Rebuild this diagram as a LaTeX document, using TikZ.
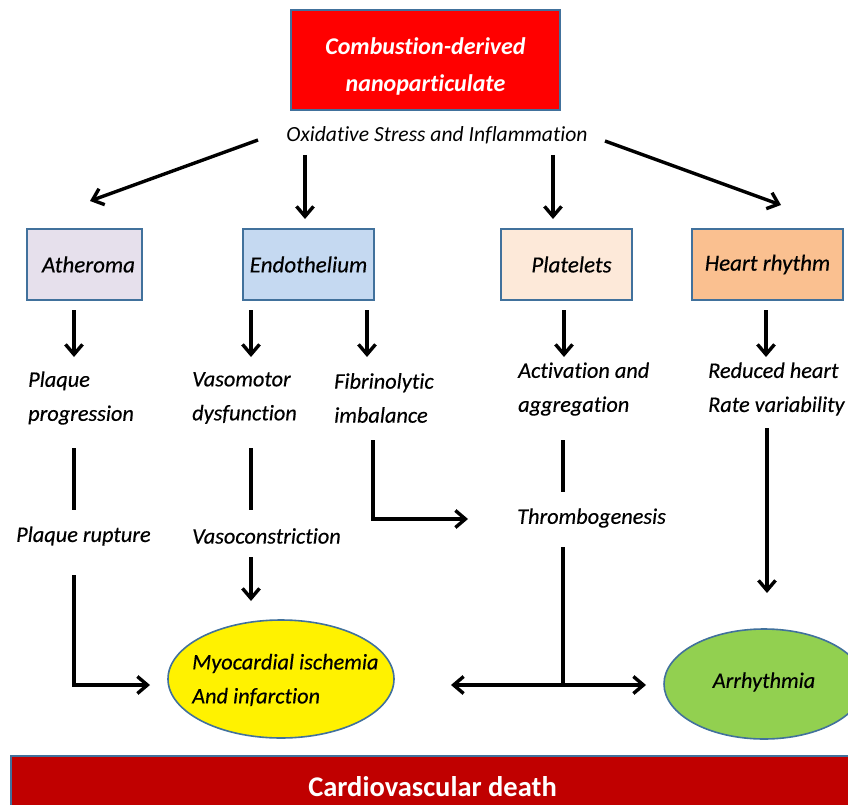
\documentclass[tikz,border=0pt]{standalone}
\usepackage{fontspec}
\setmainfont{Carlito}[Ligatures={NoCommon}]
\newfontfamily\heavyfont{Carlito}[Ligatures={NoCommon}, FakeBold=0.35]
\usetikzlibrary{arrows.meta,shapes.geometric}
\definecolor{bordc}{HTML}{41719C}
\definecolor{athc}{HTML}{E6E0EC}
\definecolor{endc}{HTML}{C5D9F1}
\definecolor{platc}{HTML}{FDE9D9}
\definecolor{heartc}{HTML}{FAC090}
\definecolor{topred}{HTML}{FF0000}
\definecolor{barred}{HTML}{C00000}
\definecolor{greenc}{HTML}{92D050}
\begin{document}
\begin{tikzpicture}[x=1pt,y=-1pt,
  txt/.style={font=\heavyfont\fontsize{22.3}{34}\selectfont\itshape, inner sep=0pt, align=left, anchor=west},
  cat/.style={draw=bordc, line width=1.6pt, minimum height=71pt, font=\heavyfont\fontsize{23}{28}\selectfont\itshape, inner sep=0pt},
  arr/.style={line width=3.4pt, -{Straight Barb[length=10pt,width=17pt,line width=3.4pt]}},
  ln/.style={line width=3.4pt}]
\clip (0,0) rectangle (848,805);
\fill[white] (0,0) rectangle (848,805);

% top box
\node[draw=bordc, fill=topred, line width=1.6pt, minimum width=269pt, minimum height=100pt, inner sep=0pt] (src) at (425.5,60) {};
\node[font=\fontsize{24}{37}\selectfont\bfseries\itshape, text=white, align=center, inner sep=0pt] (srct) at (425.5,66)
  {Combustion-derived\\nanoparticulate};
\node[font=\fontsize{21.6}{25}\selectfont\itshape, inner sep=0pt] (ox) at (437,135) {Oxidative Stress and Inflammation};

% category boxes
\node[cat, fill=athc, minimum width=115pt] (ath) at (84.5,264.5) {\hspace{8pt}Atheroma};
\node[cat, fill=endc, minimum width=131pt] (endo) at (308.5,264.5) {Endothelium};
\node[cat, fill=platc, minimum width=131pt] (plat) at (566.5,264.5) {\hspace{10pt}Platelets};
\node[cat, fill=heartc, minimum width=151pt] (heart) at (767.5,264.5) {Heart rhythm};

% arrows from oxidative stress
\coordinate (o1) at (258,140); \coordinate (o1e) at (90,201);
\coordinate (o2) at (305,155); \coordinate (o2e) at (305,219);
\coordinate (o3) at (553,155); \coordinate (o3e) at (553,219);
\coordinate (o4) at (605,141); \coordinate (o4e) at (781,205);
\draw[arr] (o1) -- (o1e);
\draw[arr] (o2) -- (o2e);
\draw[arr] (o3) -- (o3e);
\draw[arr] (o4) -- (o4e);

% second level texts
\node[txt] (pp) at (28,398) {Plaque\\progression};
\node[txt] (vd) at (192,398) {Vasomotor\\dysfunction};
\node[txt] (fi) at (334,398) {Fibrinolytic\\imbalance};
\node[txt] (aa) at (518,389) {Activation and\\aggregation};
\node[txt] (rh) at (708,389) {Reduced heart\\Rate variability};

% arrows from boxes
\coordinate (b1) at (74,310); \coordinate (b1e) at (74,357);
\coordinate (b2) at (251,310); \coordinate (b2e) at (251,357);
\coordinate (b3) at (367,310); \coordinate (b3e) at (367,357);
\coordinate (b4) at (564,310); \coordinate (b4e) at (564,357);
\coordinate (b5) at (766,310); \coordinate (b5e) at (766,357);
\draw[arr] (b1) -- (b1e);
\draw[arr] (b2) -- (b2e);
\draw[arr] (b3) -- (b3e);
\draw[arr] (b4) -- (b4e);
\draw[arr] (b5) -- (b5e);

% third level texts
\node[txt] (pr) at (16,536) {Plaque rupture};
\node[txt] (vc) at (192,536) {Vasoconstriction};
\node[txt] (tg) at (517,518) {Thrombogenesis};

% ellipses
\node[ellipse, draw=bordc, fill=yellow, line width=1.6pt, minimum width=226pt, minimum height=118pt] (myo) at (281,679) {};
\node[txt] (myot) at (192,680) {Myocardial ischemia\\And infarction};
\node[ellipse, draw=bordc, fill=greenc, line width=1.6pt, minimum width=200pt, minimum height=110pt] (arr) at (764,684) {};
\node[font=\heavyfont\fontsize{22.3}{28}\selectfont\itshape, inner sep=0pt] (arrt) at (764,682) {Arrhythmia};

% plaque path
\coordinate (p1) at (74,448); \coordinate (p1e) at (74,510);
\draw[ln] (p1) -- (p1e);
\coordinate (p2) at (74,575); \coordinate (p2c) at (74,685); \coordinate (p2e) at (150,685);
\draw[arr] (p2) -- (p2c) -- (p2e);

% vasomotor path
\coordinate (v1) at (251,448); \coordinate (v1e) at (251,510);
\draw[ln] (v1) -- (v1e);
\coordinate (v2) at (251,557); \coordinate (v2e) at (251,601);
\draw[arr] (v2) -- (v2e);

% fibrinolytic path
\coordinate (f1) at (373,440); \coordinate (f1c) at (373,519); \coordinate (f1e) at (468,519);
\draw[arr] (f1) -- (f1c) -- (f1e);

% platelet path
\coordinate (t1) at (563,440); \coordinate (t1e) at (563,492);
\draw[ln] (t1) -- (t1e);
\coordinate (t2) at (563,547); \coordinate (tj) at (563,685);
\coordinate (tl) at (451,685); \coordinate (tr) at (646,685);
\draw[ln] (t2) -- (tj);
\draw[arr] (tj) -- (tl);
\draw[arr] (tj) -- (tr);

% heart rhythm path
\coordinate (h1) at (767,428); \coordinate (h1e) at (767,593);
\draw[arr] (h1) -- (h1e);

% bottom bar
\node[draw=bordc, fill=barred, line width=1.6pt, minimum width=860pt, minimum height=70pt, anchor=north west, inner sep=0pt] (bar) at (10,755) {};
\node[font=\fontsize{28.5}{34}\selectfont\bfseries, text=white, inner sep=0pt] (bart) at (432.5,787) {Cardiovascular death};
\end{tikzpicture}
\end{document}
